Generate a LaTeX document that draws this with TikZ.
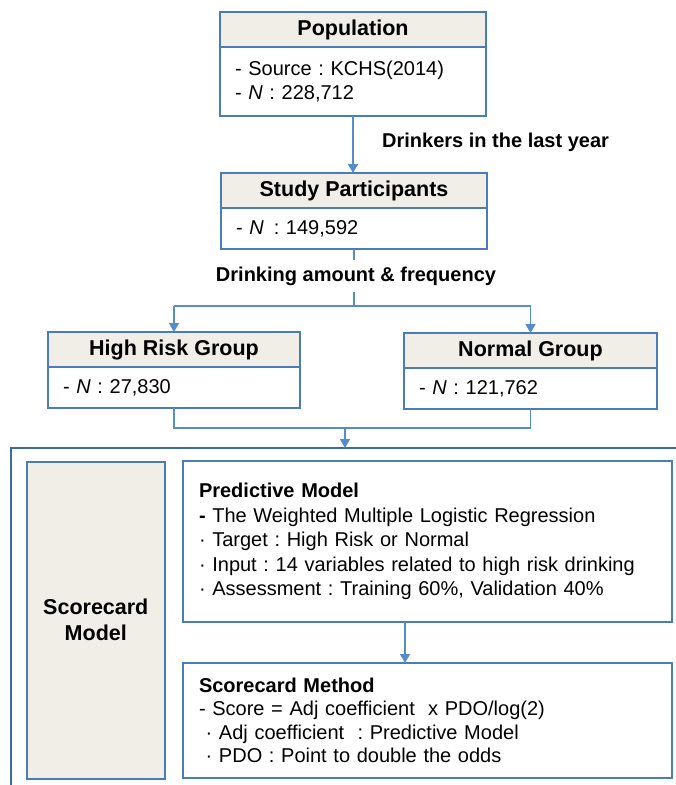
\documentclass[tikz,border=0pt]{standalone}
\usepackage{fontspec}
\setmainfont{Liberation Sans}
\usepackage{xcolor}
\usepackage{tikz}
\usetikzlibrary{positioning, calc, arrows.meta}
\frenchspacing

\definecolor{boxblue}{RGB}{74,124,184}
\definecolor{lineblue}{RGB}{84,140,204}
\definecolor{frameblue}{RGB}{62,106,162}
\definecolor{headfill}{RGB}{241,238,231}

\begin{document}
\begin{tikzpicture}[x=1pt, y=-1pt,
    headbox/.style={draw=boxblue, line width=1.6pt, fill=headfill, outer sep=0pt,
        minimum height=35pt, font=\fontsize{21.5}{24}\selectfont\bfseries},
    bodybox/.style={draw=boxblue, line width=1.6pt, fill=white, outer sep=0pt,
        inner xsep=15pt, align=left, font=\fontsize{20}{24.5}\selectfont},
    labeltext/.style={font=\fontsize{20}{24}\selectfont\bfseries, inner sep=6pt},
    conn/.style={draw=lineblue, line width=1.5pt},
    arr/.style={conn, -{Triangle[length=9pt, width=10pt]}}]

    \useasboundingbox (0,0) rectangle (676,785);

    % Population
    \node[headbox, minimum width=266pt, anchor=north west] (pophead) at (220,12) {Population};
    \node[bodybox, text width=236pt, minimum height=69pt, below=0pt of pophead] (popbody)
        {- Source : KCHS(2014)\\- \textit{N} : 228,712};

    % Study participants
    \node[headbox, minimum width=266pt, anchor=north west] (studyhead) at (221,173) {Study Participants};
    \node[bodybox, text width=236pt, minimum height=41pt, below=0pt of studyhead] (studybody)
        {- \textit{N}\, : 149,592};

    \node[labeltext, anchor=west] (lbl1) at (376,142) {Drinkers in the last year};
    \node[labeltext] (lbl2) at (356,276) {Drinking amount \& frequency};

    % Groups
    \node[headbox, minimum width=252pt, anchor=north west] (hrhead) at (48,332) {High Risk Group};
    \node[bodybox, text width=222pt, minimum height=41pt, below=0pt of hrhead] (hrbody)
        {- \textit{N} : 27,830};
    \node[headbox, minimum width=253pt, anchor=north west] (nghead) at (404,333) {Normal Group};
    \node[bodybox, text width=223pt, minimum height=41pt, below=0pt of nghead] (ngbody)
        {- \textit{N} : 121,762};

    \coordinate (split) at (354,306);
    \coordinate (merge) at (345,428);
    \coordinate (frametop) at (11,448);
    \coordinate (pm) at (405,0);

    % Outer frame of the model part
    \draw[frameblue, line width=2pt] (676,448) -- (frametop) -- (11,785);

    % Scorecard model
    \node[draw=boxblue, line width=1.6pt, fill=headfill, minimum width=138pt, minimum height=317pt,
        anchor=north west, align=center, font=\fontsize{21.5}{26}\selectfont\bfseries] (scm)
        at (26,461) {Scorecard\\Model};
    \node[bodybox, inner xsep=16pt, text width=457pt, minimum height=161pt, anchor=north west] (pred)
        at (183,461) {\textbf{Predictive Model}\\\textbf{-} The Weighted Multiple Logistic Regression\\
        · Target : High Risk or Normal\\· Input : 14 variables related to high risk drinking\\
        · Assessment : Training 60\%, Validation 40\%};
    \node[bodybox, inner xsep=16pt, text width=457pt, minimum height=115pt, anchor=north west,
        font=\fontsize{20}{23.5}\selectfont] (meth)
        at (183,663) {\textbf{Scorecard Method}\\- Score = Adj coefficient \ x PDO/log(2)\\
        \ · Adj coefficient \ : Predictive Model\\\ · PDO : Point to double the odds};

    % Connectors
    \draw[arr] (popbody.south) -- (popbody.south |- studyhead.north);
    \draw[conn] (studybody.south) -- (split |- lbl2.north);
    \draw[conn] (split |- lbl2.south) -- (split);
    \draw[conn] (hrhead.north |- split) -- (nghead.north |- split);
    \draw[arr] (hrhead.north |- split) -- (hrhead.north);
    \draw[arr] (nghead.north |- split) -- (nghead.north);
    \draw[conn] (hrbody.south) |- (merge) -| (ngbody.south);
    \draw[arr] (merge) -- (merge |- frametop);
    \draw[arr] (pred.south -| pm) -- (meth.north -| pm);

\end{tikzpicture}
\end{document}
